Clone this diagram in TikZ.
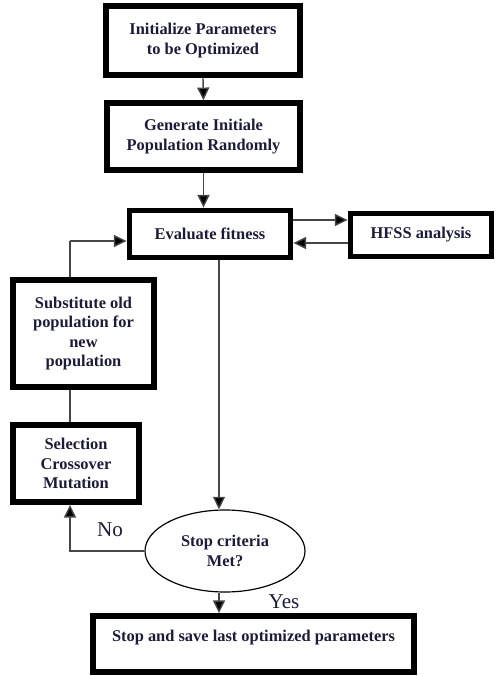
\documentclass[tikz,border=0pt]{standalone}
\usepackage{fontspec}
\setmainfont{Liberation Serif}
\usepackage{xcolor}
\usetikzlibrary{arrows.meta,positioning,shapes.geometric}
\definecolor{inkblue}{RGB}{28,28,58}
\definecolor{wiregray}{RGB}{70,70,70}

\begin{document}
\begin{tikzpicture}[x=0.03cm, y=-0.03cm,
  gabox/.style={draw=black, line width=5pt, fill=white, align=center, text=inkblue,
    inner sep=1pt, font=\fontsize{14}{16.6}\selectfont\bfseries},
  decide/.style={draw=black, ellipse, line width=1pt, align=center, text=inkblue, inner sep=0pt,
    font=\fontsize{14}{16.6}\selectfont\bfseries},
  wire/.style={draw=wiregray, line width=1.2pt},
  arr/.style={wire, -{Triangle[length=0.38cm, width=0.36cm, fill=black]}},
  answer/.style={text=inkblue, font=\fontsize{18}{20}\selectfont}]
\useasboundingbox (0,0) rectangle (495,676);
% boxes of the GA loop
\node[gabox, minimum width=5.82cm, minimum height=2.07cm] (init) at (203,40.5) {Initialize Parameters\\to be Optimized};
\node[gabox, minimum width=5.8cm, minimum height=2.0cm] (gen) at (203.5,136.5) {Generate Initiale\\Population Randomly};
\node[gabox, minimum width=4.83cm, minimum height=1.41cm] (eval) at (210,234) {Evaluate fitness};
\node[gabox, minimum width=4.23cm, minimum height=1.29cm] (hfss) at (421,235) {HFSS analysis};
\node[gabox, minimum width=4.23cm, minimum height=3.21cm] (subst) at (83.5,333.5) {Substitute old\\population for\\new\\population};
\node[gabox, minimum width=3.78cm, minimum height=2.31cm] (select) at (76,463.5) {Selection\\Crossover\\Mutation};
\node[decide, minimum width=4.8cm, minimum height=2.46cm] (stop) at (225,551) {Stop criteria\\Met?};
\node[gabox, minimum width=9.63cm, minimum height=1.68cm, text height=0.28cm, text depth=0.46cm] (last) at (253.5,644) {Stop and save last optimized parameters};
\node[answer] (no) at (110,530) {No};
\node[answer] (yes) at (284,602) {Yes};
% helper columns
\coordinate (fb) at (70,241);
\coordinate (down) at (219,0);
% connectors
\draw[arr] (init.south) -- (gen.north);
\draw[arr] (gen.south) -- (gen.south |- eval.north);
\draw[arr] ([yshift=0.42cm]eval.east) -- ([yshift=0.42cm]eval.east -| hfss.west);
\draw[arr] ([yshift=-0.24cm]hfss.west) -- ([yshift=-0.24cm]hfss.west -| eval.east);
\draw[wire] (subst.north -| fb) -- (fb);
\draw[arr] (fb) -- (fb -| eval.west);
\draw[wire] (select.north -| fb) -- (subst.south -| fb);
\draw[arr] (eval.south -| down) -- (stop.north -| down);
\draw[arr] (stop.west) -- (stop.west -| fb) -- (select.south -| fb);
\draw[arr] (stop.south -| down) -- (last.north -| down);
\end{tikzpicture}
\end{document}
